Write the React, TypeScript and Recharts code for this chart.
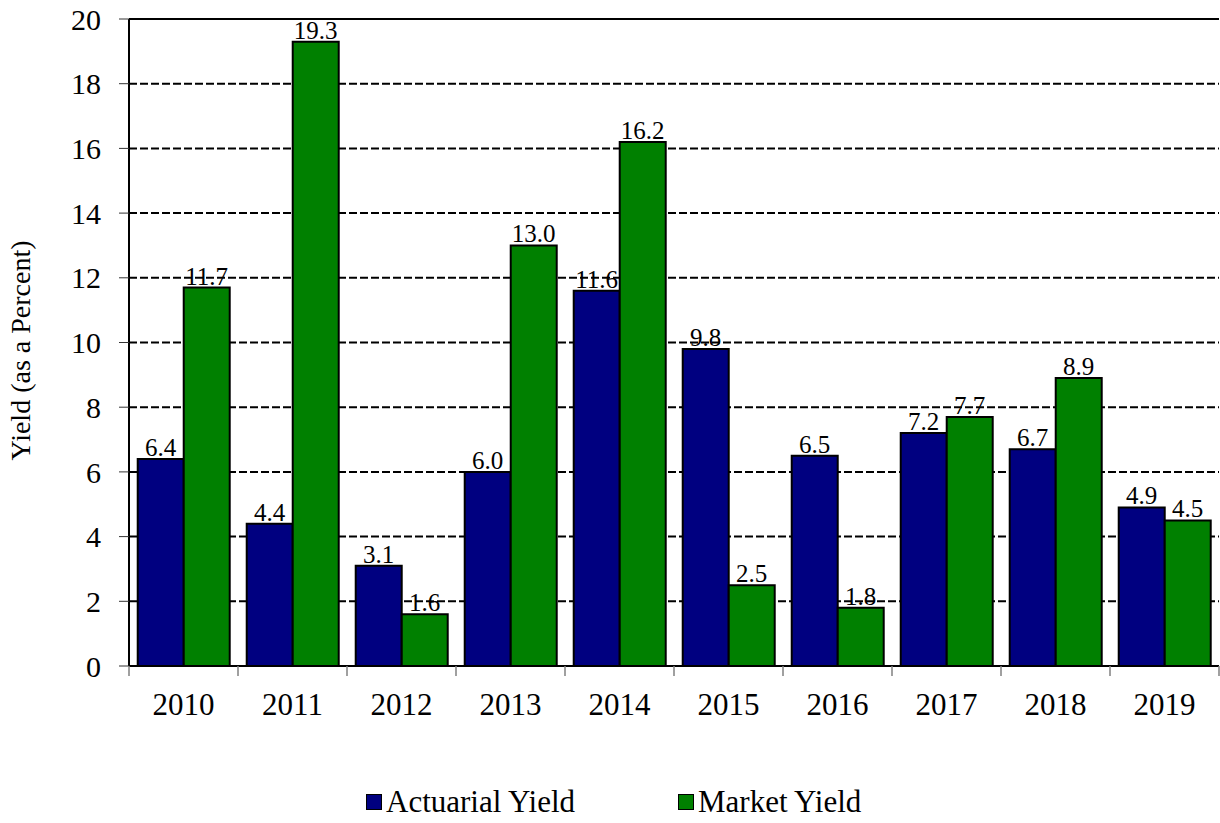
import { Bar, BarChart, CartesianGrid, LabelList, Legend, ReferenceLine, XAxis, YAxis } from 'recharts'

const YEARS = ['2010', '2011', '2012', '2013', '2014', '2015', '2016', '2017', '2018', '2019']
const ACTUARIAL = [6.4, 4.4, 3.1, 6.0, 11.6, 9.8, 6.5, 7.2, 6.7, 4.9]
const MARKET = [11.7, 19.3, 1.6, 13.0, 16.2, 2.5, 1.8, 7.7, 8.9, 4.5]
const Y_TICKS = [0, 2, 4, 6, 8, 10, 12, 14, 16, 18, 20]

const NAVY = '#000080'
const GREEN = '#008000'
const FONT = 'Liberation Serif'

const W = 1220
const H = 823
const MARGIN = { top: 19, right: 1, left: 0, bottom: 1 }
const Y_AXIS_W = 129
const BAND = (W - MARGIN.left - MARGIN.right - Y_AXIS_W) / YEARS.length

const data = YEARS.map((year, i) => ({ year, actuarial: ACTUARIAL[i], market: MARKET[i] }))

// Category ticks sit on band edges, not centres — draw the edge marks from the band centre.
function YearTick({ x, y, payload, index }: any) {
  const left = x - BAND / 2
  return (
    <g>
      <line x1={left} y1={y - 8} x2={left} y2={y + 2} stroke="#808080" strokeWidth={1.5} />
      {index === YEARS.length - 1 && (
        <line x1={x + BAND / 2} y1={y - 8} x2={x + BAND / 2} y2={y + 2} stroke="#808080" strokeWidth={1.5} />
      )}
      <text x={x} y={y + 41} textAnchor="middle" fontSize={31} fontFamily={FONT} fill="#000">
        {payload.value}
      </text>
    </g>
  )
}

function LegendBox() {
  const item = (color: string, label: string, width: number) => (
    <span style={{ display: 'inline-flex', alignItems: 'center', width }}>
      <span style={{ width: 14, height: 14, background: color, border: '1.5px solid #000', marginRight: 4 }} />
      <span>{label}</span>
    </span>
  )
  return (
    <div style={{ fontFamily: FONT, fontSize: 31, lineHeight: '40px', color: '#000', display: 'flex', paddingLeft: 366 }}>
      {item(NAVY, 'Actuarial Yield', 312)}
      {item(GREEN, 'Market Yield', 250)}
    </div>
  )
}

const fmt = (v: any) => Number(v).toFixed(1)

export default function App() {
  return (
    <div style={{ position: 'absolute', left: 0, top: 0, background: '#fff' }}>
      <BarChart width={W} height={H} data={data} margin={MARGIN} barCategoryGap="8%" barGap={0}>
        <CartesianGrid vertical={false} stroke="#000" strokeWidth={2} strokeDasharray="8 3" />
        <XAxis
          dataKey="year"
          height={116}
          axisLine={{ stroke: '#000', strokeWidth: 2 }}
          tickLine={false}
          tick={<YearTick />}
          interval={0}
        />
        <YAxis
          domain={[0, 20]}
          ticks={Y_TICKS}
          width={Y_AXIS_W}
          axisLine={{ stroke: '#000', strokeWidth: 2 }}
          tickLine={{ stroke: '#333', strokeWidth: 1 }}
          tickSize={10}
          tickMargin={18}
          tick={{ fontSize: 30, fontFamily: FONT, fill: '#000' }}
          label={{
            content: ({ viewBox }: any) => {
              const cx = 24
              const cy = viewBox.y + viewBox.height / 2 + 8
              return (
                <text x={cx} y={cy} transform={`rotate(-90 ${cx} ${cy})`} textAnchor="middle" dominantBaseline="middle" fontSize={28} fontFamily={FONT} fill="#000">
                  Yield (as a Percent)
                </text>
              )
            },
          }}
        />
        <ReferenceLine y={20} stroke="#000" strokeWidth={2} />
        <Legend verticalAlign="bottom" height={40} content={<LegendBox />} />
        <Bar dataKey="actuarial" name="Actuarial Yield" fill={NAVY} stroke="#000" strokeWidth={2} isAnimationActive={false}>
          <LabelList dataKey="actuarial" position="top" offset={3} formatter={fmt} fontSize={25} fontFamily={FONT} fill="#000" />
        </Bar>
        <Bar dataKey="market" name="Market Yield" fill={GREEN} stroke="#000" strokeWidth={2} isAnimationActive={false}>
          <LabelList dataKey="market" position="top" offset={3} formatter={fmt} fontSize={25} fontFamily={FONT} fill="#000" />
        </Bar>
      </BarChart>
    </div>
  )
}
